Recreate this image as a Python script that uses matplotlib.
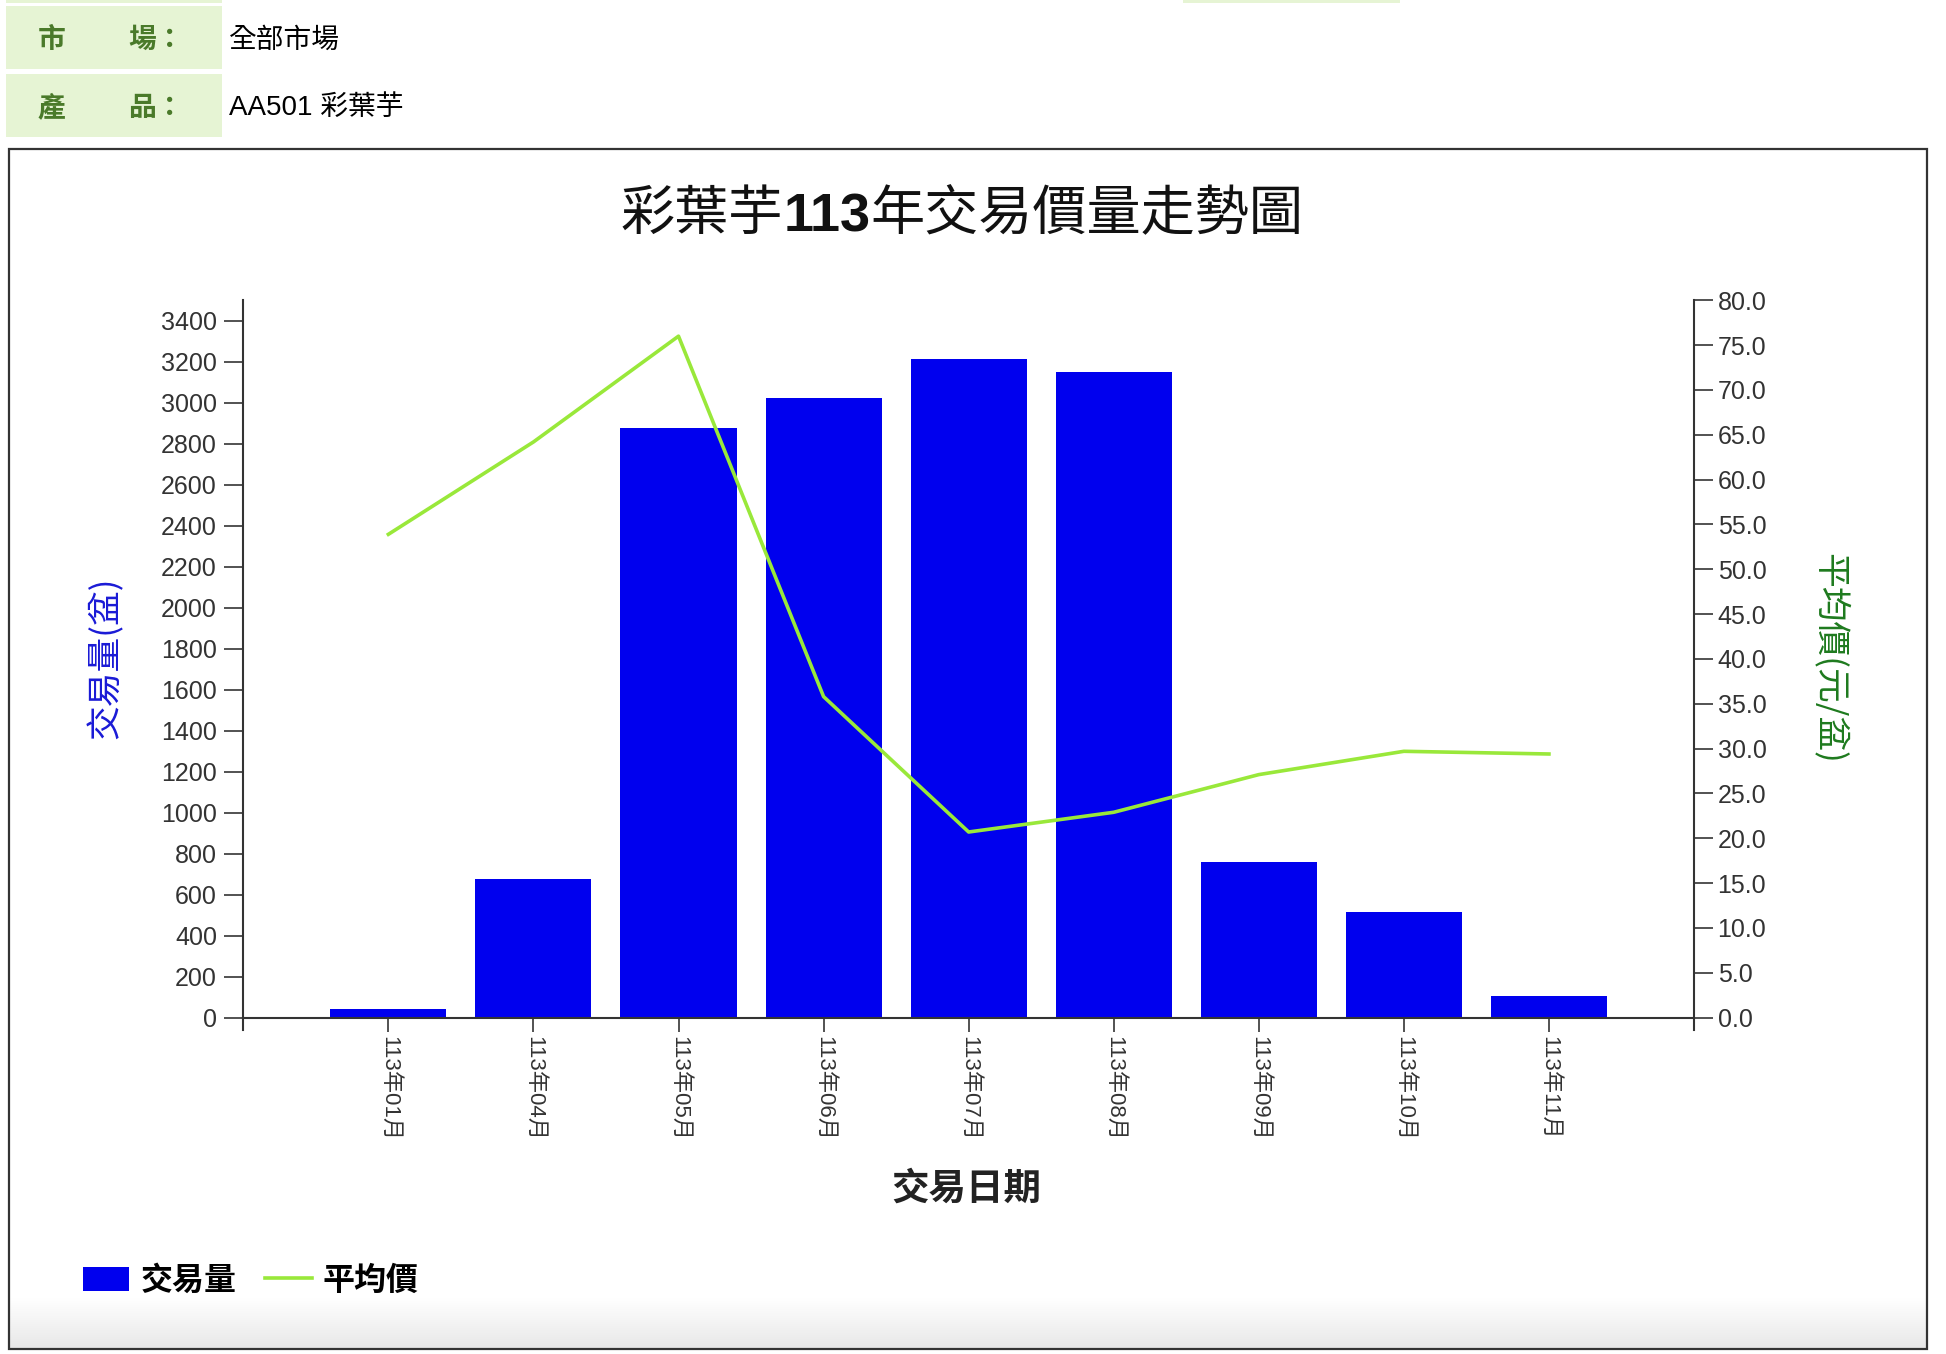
import matplotlib
matplotlib.use('Agg')
from matplotlib import pyplot as plt
import matplotlib.ticker as ticker
from matplotlib.patches import Rectangle
from matplotlib.text import Annotation
from matplotlib.colors import LinearSegmentedColormap
import numpy as np

# data
months = ['113年01月', '113年04月', '113年05月', '113年06月', '113年07月',
          '113年08月', '113年09月', '113年10月', '113年11月']
volume = [40, 678, 2877, 3023, 3216, 3149, 757, 515, 105]
price = [53.9, 64.2, 76.0, 35.8, 20.7, 22.9, 27.1, 29.7, 29.4]
vol_ticks = list(range(0, 3401, 200))
price_ticks = [0, 5, 10, 15, 20, 25, 30, 35, 40, 45, 50, 55, 60, 65, 70, 75, 80]

W, H = 1946, 1354


def fx(px):
    # pixel x -> figure fraction
    return px / W


def fy(py):
    # pixel y (from top) -> figure fraction
    return 1 - py / H


def box(x0, y0, x1, y1, **kw):
    return Rectangle((fx(x0), fy(y1)), (x1 - x0) / W, (y1 - y0) / H,
                     transform=fig.transFigure, **kw)


plt.rcParams['font.family'] = ['Liberation Sans', 'Noto Sans CJK TC']
cjk = ['Noto Sans CJK TC', 'Liberation Sans']
head_green = '#4a7a2a'
text_grey = '#333333'

fig = plt.figure(figsize=(W / 100, H / 100), dpi=100)
fig.patch.set_facecolor('white')

# header table cells
for y0, y1 in [(-10, 3), (6, 69), (74, 137)]:
    fig.patches.append(box(6, y0, 222, y1, facecolor='#e6f4d4', edgecolor='none'))
fig.patches.append(box(1183, -10, 1400, 3, facecolor='#e6f4d4', edgecolor='none'))

fig.text(fx(38), fy(40), '市', color=head_green, fontsize=20, fontweight='bold', family=cjk, va='center')
fig.text(fx(128), fy(40), '場：', color=head_green, fontsize=20, fontweight='bold', family=cjk, va='center')
fig.text(fx(229), fy(40), '全部市場', color='black', fontsize=20, family=cjk, va='center')
fig.text(fx(38), fy(108), '產', color=head_green, fontsize=20, fontweight='bold', family=cjk, va='center')
fig.text(fx(128), fy(108), '品：', color=head_green, fontsize=20, fontweight='bold', family=cjk, va='center')
fig.text(fx(229), fy(108), 'AA501 彩葉芋', color='black', fontsize=20,
         family=['Liberation Sans', 'Noto Sans CJK TC'], va='center')

# faint grey gradient at the bottom of the chart box
ax_g = fig.add_axes([fx(10), fy(1348), (1926 - 10) / W, 50 / H], zorder=-5)
grad = LinearSegmentedColormap.from_list('g', ['#ffffff', '#e8e8e8'])
ax_g.imshow(np.linspace(0, 1, 60)[:, None], aspect='auto', cmap=grad)
ax_g.axis('off')

# chart border
fig.patches.append(box(9, 149, 1927, 1349, facecolor='none', edgecolor='#333333', lw=1.6, zorder=10))

# main axes
left, right, top, bottom = 243.3, 1694, 300.3, 1017.6
ax = fig.add_axes([fx(left), fy(bottom), (right - left) / W, (bottom - top) / H])
ax2 = ax.twinx()

x = np.arange(len(months))
bars = ax.bar(x, volume, width=0.8, color='#0000ee', zorder=2)
line, = ax2.plot(x, price, color='#99e83a', lw=2.6, zorder=3)

ax.set_xlim(-1, len(months))
ax.set_ylim(0, 3500)
ax2.set_ylim(0, 80)

ax.set_xticks(x)
ax.set_xticklabels(months, rotation=-90, fontsize=16, color=text_grey)
ax.tick_params(axis='x', length=10, width=1.3, pad=3, color='#444444')
ax.set_yticks(vol_ticks)
ax.tick_params(axis='y', length=14, width=1.3, pad=5, labelsize=18,
               labelcolor=text_grey, color='#444444')
ax2.set_yticks(price_ticks)
ax2.yaxis.set_major_formatter(ticker.FormatStrFormatter('%.1f'))
ax2.tick_params(axis='y', length=14, width=1.3, pad=3, labelsize=18,
                labelcolor=text_grey, color='#444444')

for s in ['top', 'right']:
    ax.spines[s].set_visible(False)
for s in ['top', 'left', 'bottom']:
    ax2.spines[s].set_visible(False)
for sp in [ax.spines['left'], ax.spines['bottom'], ax2.spines['right']]:
    sp.set_color('#333333')
    sp.set_linewidth(1.5)
# spines run a little below the baseline, as in the reference
ax.spines['left'].set_bounds(-60, 3500)
ax2.spines['right'].set_bounds(-80 * 60 / 3500, 80)

# title in three pieces so the year can be bold
t1 = fig.text(fx(621), fy(230), '彩葉芋', fontsize=39, family=cjk,
              ha='left', va='baseline', color='#111111')
t2 = fig.add_artist(Annotation('113', xy=(1, 0), xycoords=t1, fontsize=39,
                               fontweight='bold', family=['Liberation Sans'],
                               ha='left', va='bottom', color='#111111'))
fig.add_artist(Annotation('年交易價量走勢圖', xy=(1, 0), xycoords=t2, fontsize=39,
                          family=cjk, ha='left', va='bottom', color='#111111'))

fig.text(fx(966), fy(1188), '交易日期', fontsize=27, fontweight='bold', family=cjk,
         ha='center', va='center', color='#222222')
fig.text(fx(105), fy(658), '交易量(盆)', rotation=90, fontsize=25, family=cjk,
         ha='center', va='center', color='#1a1ad6')
fig.text(fx(1830), fy(658), '平均價(元/盆)', rotation=-90, fontsize=25, family=cjk,
         ha='center', va='center', color='#1e7a1e')

fig.legend(handles=[bars, line], labels=['交易量', '平均價'], loc='center left',
           bbox_to_anchor=(fx(83), fy(1281)), ncol=2, frameon=False,
           prop=dict(family=cjk, weight='bold', size=23),
           handlelength=1.45, handleheight=0.8, handletextpad=0.35,
           columnspacing=0.9, borderpad=0, borderaxespad=0)

fig.savefig('out.png', dpi=100)
